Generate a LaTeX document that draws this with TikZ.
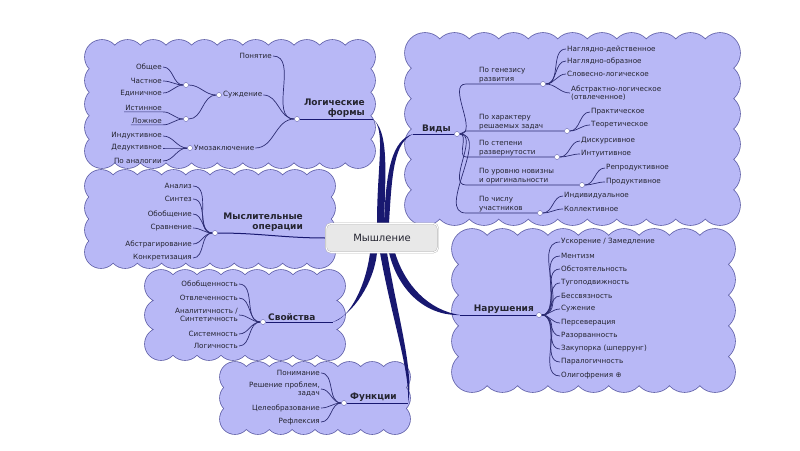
\documentclass[tikz,border=0pt]{standalone}
\usepackage{fontspec}
\setmainfont{DejaVu Sans}
\usetikzlibrary{positioning}
\definecolor{cloudfill}{RGB}{184,184,246}
\definecolor{cloudline}{RGB}{98,98,170}
\definecolor{branch}{RGB}{24,24,112}
\definecolor{twigblue}{RGB}{45,45,115}
\definecolor{ink}{RGB}{36,36,48}
\pgfdeclarelayer{back}
\pgfdeclarelayer{mid}
\pgfsetlayers{back,mid,main}
% cloud: left, top, right, bottom, puff radius
\newcommand{\cloudblob}[5]{%
  \pgfmathsetmacro{\cbL}{#1+#5}%
  \pgfmathsetmacro{\cbT}{#2+#5}%
  \pgfmathsetmacro{\cbR}{#3-#5}%
  \pgfmathsetmacro{\cbB}{#4-#5}%
  \pgfmathtruncatemacro{\cbNx}{round((\cbR-\cbL)/(1.5*#5))}%
  \pgfmathtruncatemacro{\cbNy}{round((\cbB-\cbT)/(1.5*#5))}%
  \pgfmathsetmacro{\cbDx}{(\cbR-\cbL)/\cbNx}%
  \pgfmathsetmacro{\cbDy}{(\cbB-\cbT)/\cbNy}%
  \foreach \pass in {cloudrim, cloudbody} {
    \path[\pass] (\cbL,\cbT) rectangle (\cbR,\cbB)
      foreach \i in {0,...,\cbNx} {
        (\cbL+\i*\cbDx,\cbT) circle[radius=#5pt]
        (\cbL+\i*\cbDx,\cbB) circle[radius=#5pt]}
      foreach \j in {1,...,\cbNy} {
        (\cbL,\cbT+\j*\cbDy) circle[radius=#5pt]
        (\cbR,\cbT+\j*\cbDy) circle[radius=#5pt]};
  }%
}

\begin{document}
\begin{tikzpicture}[
            x = 1pt, y = -1pt, % pixel units, y grows downwards
            every node/.style = {text = ink},
        ]
\tikzstyle{leaf}=[
            font = \fontsize{7.2}{8.6}\selectfont,
            inner sep = 1pt
        ]
\tikzstyle{lleaf}=[leaf, anchor = east]
\tikzstyle{rleaf}=[leaf, anchor = west]
\tikzstyle{cat}=[leaf, anchor = south west, align = left]
\tikzstyle{topic}=[
            font = \fontsize{9}{10}\selectfont\bfseries,
            inner sep = 1pt
        ]
\tikzstyle{hub}=[
            shape = circle,
            draw = cloudline,
            fill = white,
            inner sep = 0pt,
            minimum size = 5pt
        ]
\tikzstyle{centre}=[
            shape = rectangle,
            rounded corners = 5pt,
            draw = gray!60,
            double = white,
            double distance = 1pt,
            fill = gray!18,
            minimum width = 112pt,
            minimum height = 29pt,
            font = \fontsize{10}{12}\selectfont
        ]
\tikzstyle{cloudrim}=[draw = cloudline, line width = 1.6pt]
\tikzstyle{cloudbody}=[fill = cloudfill]
\tikzstyle{twig}=[draw = twigblue, line width = 0.7pt]
\tikzstyle{stem}=[draw = branch, line width = 1pt]

\path[use as bounding box] (0,0) rectangle (800,450);

% clouds
\begin{pgfonlayer}{back}
\cloudblob{85}{40}{375}{168}{17}
\cloudblob{405}{33}{740}{225}{20}
\cloudblob{85}{170}{335}{268}{16}
\cloudblob{145}{270}{345}{360}{16}
\cloudblob{452}{229}{735}{392}{20}
\cloudblob{220}{362}{410}{434}{15}
\end{pgfonlayer}

\node[centre] (mysh) at (382,238) {Мышление};

% Логические формы
\node[hub] (lfhub) at (297,119) {};
\node[topic, align = right, anchor = south east] (lf) at (366,119) {Логические\\формы};
\coordinate (lfend) at (373,119);
\node[lleaf] (pon) at (273,56) {Понятие};
\node[hub] (sudhub) at (219,95) {};
\node[rleaf] (sud) at (222,95) {Суждение};
\node[hub] (umhub) at (190,148) {};
\node[rleaf] (um) at (193,148) {Умозаключение};
\node[hub] (suda) at (186,85) {};
\node[hub] (sudb) at (186,119) {};
\node[lleaf] (obsh) at (163,67) {Общее};
\node[lleaf] (chast) at (163,81) {Частное};
\node[lleaf] (edin) at (163,93) {Единичное};
\node[lleaf] (ist) at (163,108) {Истинное};
\node[lleaf] (lozh) at (163,121) {Ложное};
\node[lleaf] (ind) at (163,136) {Индуктивное};
\node[lleaf] (ded) at (163,148) {Дедуктивное};
\node[lleaf] (analog) at (163,161) {По аналогии};

% Мыслительные операции
\node[hub] (mohub) at (215,233) {};
\node[topic, align = right, anchor = south east] (mo) at (304,233) {Мыслительные\\операции};
\node[lleaf] (analiz) at (193,186) {Анализ};
\node[lleaf] (sint) at (193,199) {Синтез};
\node[lleaf] (obob) at (193,214) {Обобщение};
\node[lleaf] (srav) at (193,228) {Сравнение};
\node[lleaf] (abstr) at (193,244) {Абстрагирование};
\node[lleaf] (konk) at (193,258) {Конкретизация};

% Свойства
\node[hub] (svhub) at (263,322) {};
\node[topic, anchor = south west] (sv) at (267,322) {Свойства};
\coordinate (svend) at (333,322);
\node[lleaf] (obobsh) at (239,284) {Обобщенность};
\node[lleaf] (otvl) at (239,298) {Отвлеченность};
\node[lleaf, align = right] (ansin) at (239,315) {Аналитичность /\\Синтетичность};
\node[lleaf] (sist) at (239,334) {Системность};
\node[lleaf] (logich) at (239,346) {Логичность};

% Функции
\node[hub] (fnhub) at (344,403) {};
\node[topic, anchor = south west] (fn) at (349,403) {Функции};
\coordinate (fnend) at (408,403);
\node[lleaf] (ponim) at (321,373) {Понимание};
\node[lleaf, align = right] (resh) at (321,389) {Решение проблем,\\задач};
\node[lleaf] (celeo) at (321,408) {Целеобразование};
\node[lleaf] (refl) at (321,422) {Рефлексия};

% Виды
\node[hub] (vhub) at (457,134) {};
\node[topic, anchor = south east] (vid) at (452,134) {Виды};
\coordinate (vend) at (413,134);
\node[cat] (gen) at (478,84) {По генезису\\развития};
\node[hub] (genhub) at (543,84) {};
\node[cat] (har) at (478,131) {По характеру\\решаемых задач};
\node[hub] (harhub) at (567,131) {};
\node[cat] (step) at (478,157) {По степени\\развернутости};
\node[hub] (stephub) at (557,157) {};
\node[cat] (nov) at (478,185) {По уровню новизны\\и оригинальности};
\node[hub] (novhub) at (582,185) {};
\node[cat] (chis) at (478,213) {По числу\\участников};
\node[hub] (chishub) at (540,213) {};
\node[rleaf] (nagld) at (566,49) {Наглядно-действенное};
\node[rleaf] (naglo) at (566,61) {Наглядно-образное};
\node[rleaf] (slov) at (566,74) {Словесно-логическое};
\node[rleaf, align = left] (abstrl) at (570,93) {Абстрактно-логическое\\(отвлеченное)};
\node[rleaf] (prakt) at (590,112) {Практическое};
\node[rleaf] (teor) at (590,125) {Теоретическое};
\node[rleaf] (disk) at (580,141) {Дискурсивное};
\node[rleaf] (intu) at (580,154) {Интуитивное};
\node[rleaf] (repr) at (605,168) {Репродуктивное};
\node[rleaf] (prod) at (605,182) {Продуктивное};
\node[rleaf] (indiv) at (563,196) {Индивидуальное};
\node[rleaf] (kollek) at (563,209) {Коллективное};

% Нарушения
\node[hub] (nrhub) at (539,315) {};
\node[topic, anchor = south east] (nr) at (535,315) {Нарушения};
\coordinate (nrend) at (460,315);
\node[rleaf] (uskor) at (560,242) {Ускорение / Замедление};
\node[rleaf] (ment) at (560,256) {Ментизм};
\node[rleaf] (obst) at (560,269) {Обстоятельность};
\node[rleaf] (tugo) at (560,283) {Тугоподвижность};
\node[rleaf] (bessv) at (560,296) {Бессвязность};
\node[rleaf] (suzh) at (560,309) {Сужение};
\node[rleaf] (perse) at (560,323) {Персеверация};
\node[rleaf] (razor) at (560,336) {Разорванность};
\node[rleaf] (zakup) at (560,349) {Закупорка (шперрунг)};
\node[rleaf] (paral) at (560,362) {Паралогичность};
\node[rleaf] (oligo) at (560,376) {Олигофрения ⊕};

\begin{pgfonlayer}{mid}
% main branches, tapering away from the centre
\fill[branch] ([xshift=-5pt]mysh.north) .. controls (377,165) and (386,130) .. (lfend)
    .. controls (388,132) and (386,165) .. ([xshift=2pt]mysh.north) -- cycle;
\fill[branch] ([xshift=2pt]mysh.north) .. controls (386,170) and (392,140) .. (vend)
    .. controls (394,143) and (392,172) .. ([xshift=7pt]mysh.north) -- cycle;
\fill[branch] ([xshift=-12pt]mysh.south) .. controls (366,285) and (350,318) .. (svend)
    .. controls (353,314) and (374,283) .. ([xshift=-5pt]mysh.south) -- cycle;
\fill[branch] ([xshift=-2pt]mysh.south) .. controls (392,320) and (410,370) .. (fnend)
    .. controls (414,370) and (398,318) .. ([xshift=5pt]mysh.south) -- cycle;
\fill[branch] ([xshift=7pt]mysh.south) .. controls (398,290) and (425,316) .. (nrend)
    .. controls (428,310) and (405,285) .. ([xshift=13pt]mysh.south) -- cycle;
\draw[stem] (lfhub) -- (lfend);
\draw[stem] (vend) -- (vhub);
\draw[stem] (svhub) -- (svend);
\draw[stem] (fnhub) -- (fnend);
\draw[stem] (nrend) -- (nrhub);
\draw[stem] (mohub) to[out=0, in=180] (mysh.west);

% Логические формы
\draw[twig] (pon.east) to[out=0, in=180] (lfhub);
\draw[twig] (sud.east) to[out=0, in=180] (lfhub);
\draw[twig] (um.east) to[out=0, in=180] (lfhub);
\draw[twig] (suda) to[out=0, in=180] (sudhub);
\draw[twig] (sudb) to[out=0, in=180] (sudhub);
\draw[twig] (obsh.east) to[out=0, in=180] (suda);
\draw[twig] (chast.east) to[out=0, in=180] (suda);
\draw[twig] (edin.east) to[out=0, in=180] (suda);
\draw[twig] (ist.south west) -- (ist.south east) to[out=0, in=180] (sudb);
\draw[twig] (lozh.south west) -- (lozh.south east) to[out=0, in=180] (sudb);
\draw[twig] (ind.east) to[out=0, in=180] (umhub);
\draw[twig] (ded.east) to[out=0, in=180] (umhub);
\draw[twig] (analog.east) to[out=0, in=180] (umhub);

% Мыслительные операции
\draw[twig] (analiz.east) to[out=0, in=180] (mohub);
\draw[twig] (sint.east) to[out=0, in=180] (mohub);
\draw[twig] (obob.east) to[out=0, in=180] (mohub);
\draw[twig] (srav.east) to[out=0, in=180] (mohub);
\draw[twig] (abstr.east) to[out=0, in=180] (mohub);
\draw[twig] (konk.east) to[out=0, in=180] (mohub);

% Свойства
\draw[twig] (obobsh.east) to[out=0, in=180] (svhub);
\draw[twig] (otvl.east) to[out=0, in=180] (svhub);
\draw[twig] (ansin.east) to[out=0, in=180] (svhub);
\draw[twig] (sist.east) to[out=0, in=180] (svhub);
\draw[twig] (logich.east) to[out=0, in=180] (svhub);

% Функции
\draw[twig] (ponim.east) to[out=0, in=180] (fnhub);
\draw[twig] (resh.east) to[out=0, in=180] (fnhub);
\draw[twig] (celeo.east) to[out=0, in=180] (fnhub);
\draw[twig] (refl.east) to[out=0, in=180] (fnhub);

% Виды
\draw[twig] (vhub) to[out=0, in=180] ([xshift=-12pt]gen.south west) -- (genhub);
\draw[twig] (vhub) to[out=0, in=180] ([xshift=-12pt]har.south west) -- (harhub);
\draw[twig] (vhub) to[out=0, in=180] ([xshift=-12pt]step.south west) -- (stephub);
\draw[twig] (vhub) to[out=0, in=180] ([xshift=-12pt]nov.south west) -- (novhub);
\draw[twig] (vhub) to[out=0, in=180] ([xshift=-12pt]chis.south west) -- (chishub);
\draw[twig] (genhub) to[out=0, in=180] (nagld.west);
\draw[twig] (genhub) to[out=0, in=180] (naglo.west);
\draw[twig] (genhub) to[out=0, in=180] (slov.west);
\draw[twig] (genhub) to[out=0, in=180] (abstrl.west);
\draw[twig] (harhub) to[out=0, in=180] (prakt.west);
\draw[twig] (harhub) to[out=0, in=180] (teor.west);
\draw[twig] (stephub) to[out=0, in=180] (disk.west);
\draw[twig] (stephub) to[out=0, in=180] (intu.west);
\draw[twig] (novhub) to[out=0, in=180] (repr.west);
\draw[twig] (novhub) to[out=0, in=180] (prod.west);
\draw[twig] (chishub) to[out=0, in=180] (indiv.west);
\draw[twig] (chishub) to[out=0, in=180] (kollek.west);

% Нарушения
\draw[twig] (nrhub) to[out=0, in=180] (uskor.west);
\draw[twig] (nrhub) to[out=0, in=180] (ment.west);
\draw[twig] (nrhub) to[out=0, in=180] (obst.west);
\draw[twig] (nrhub) to[out=0, in=180] (tugo.west);
\draw[twig] (nrhub) to[out=0, in=180] (bessv.west);
\draw[twig] (nrhub) to[out=0, in=180] (suzh.west);
\draw[twig] (nrhub) to[out=0, in=180] (perse.west);
\draw[twig] (nrhub) to[out=0, in=180] (razor.west);
\draw[twig] (nrhub) to[out=0, in=180] (zakup.west);
\draw[twig] (nrhub) to[out=0, in=180] (paral.west);
\draw[twig] (nrhub) to[out=0, in=180] (oligo.west);
\end{pgfonlayer}
\end{tikzpicture}
\end{document}
